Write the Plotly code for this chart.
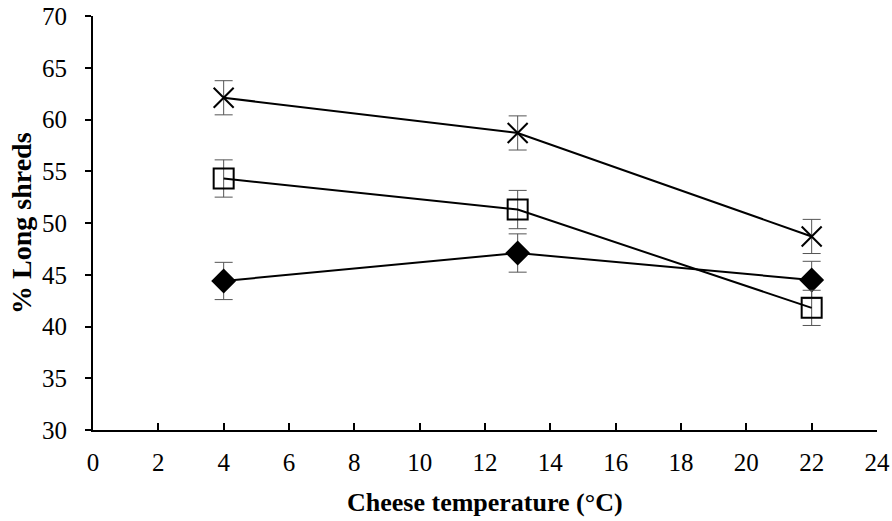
import plotly.graph_objects as go

temps = [4, 13, 22]
series_cross = [62.1, 58.7, 48.7]
err_cross = [1.65, 1.65, 1.65]
series_square = [54.3, 51.3, 41.8]
err_square = [1.8, 1.85, 1.7]
series_diamond = [44.4, 47.1, 44.5]
err_diamond = [1.8, 1.85, 1.8]

FONT = "Liberation Serif, Times New Roman, serif"

fig = go.Figure()

def add(y, err, symbol, size, fill):
    fig.add_trace(go.Scatter(
        x=temps, y=y, mode="lines+markers",
        line=dict(color="black", width=2),
        marker=dict(symbol=symbol, size=size, color=fill,
                    line=dict(color="black", width=2)),
        error_y=dict(type="data", array=err, visible=True,
                     color="#555555", thickness=1, width=9),
        showlegend=False))

add(series_diamond, err_diamond, "diamond", 17, "black")
add(series_square, err_square, "square-open", 20, "black")
add(series_cross, err_cross, "x-thin", 20, "black")

fig.update_layout(
    width=892, height=521,
    margin=dict(l=93, r=15, t=16, b=91),
    plot_bgcolor="white", paper_bgcolor="white",
    font=dict(family=FONT, size=25, color="black"),
    xaxis=dict(range=[0, 24], tickvals=list(range(0, 25, 2)),
               ticks="inside", ticklen=7, tickwidth=2, tickcolor="black",
               showline=True, linecolor="black", linewidth=2,
               showgrid=False, zeroline=False, ticklabelstandoff=9,
               automargin=False),
    yaxis=dict(range=[30, 70], tickvals=list(range(30, 71, 5)),
               ticks="outside", ticklen=6, tickwidth=2, tickcolor="black",
               showline=True, linecolor="black", linewidth=2,
               showgrid=False, zeroline=False, ticklabelstandoff=13,
               automargin=False),
    annotations=[
        dict(text="<b>Cheese temperature (°C)</b>", xref="paper", yref="paper",
             x=0.5, y=0, yshift=-72, xanchor="center", yanchor="middle",
             showarrow=False, font=dict(family=FONT, size=26)),
        dict(text="<b>% Long shreds</b>", xref="paper", yref="paper",
             x=0, y=0.5, xshift=-72, xanchor="center", yanchor="middle",
             textangle=-90, showarrow=False, font=dict(family=FONT, size=28)),
    ],
)

fig.write_html("out.html")
